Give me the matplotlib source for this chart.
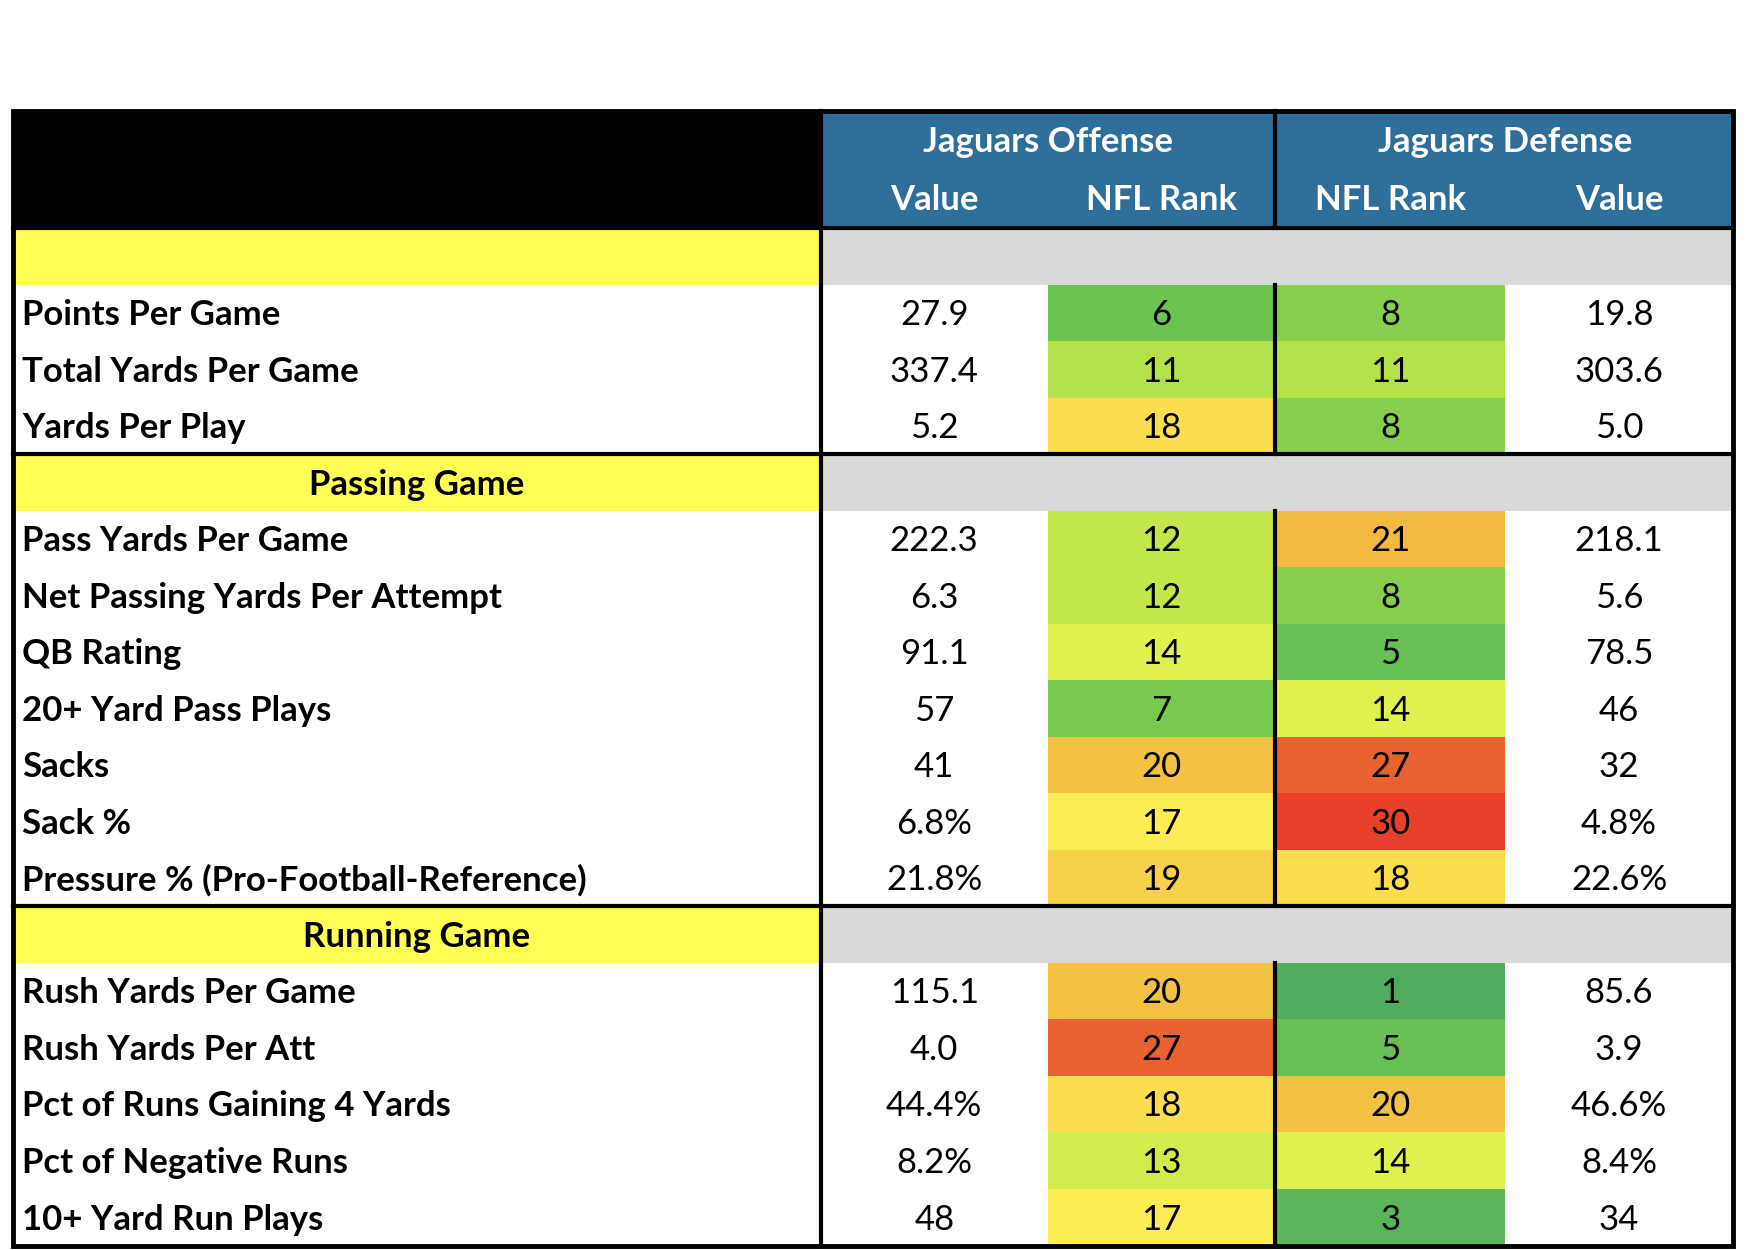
import matplotlib.pyplot as plt
from matplotlib.patches import Rectangle
from matplotlib.colors import LinearSegmentedColormap

plt.rcParams['font.family'] = ['Lato', 'DejaVu Sans']

sections = ['', 'Passing Game', 'Running Game']
labels = [
    ['Points Per Game', 'Total Yards Per Game', 'Yards Per Play'],
    ['Pass Yards Per Game', 'Net Passing Yards Per Attempt', 'QB Rating', '20+ Yard Pass Plays',
     'Sacks', 'Sack %', 'Pressure % (Pro-Football-Reference)'],
    ['Rush Yards Per Game', 'Rush Yards Per Att', 'Pct of Runs Gaining 4 Yards',
     'Pct of Negative Runs', '10+ Yard Run Plays'],
]
off_value = [['27.9', '337.4', '5.2'],
             ['222.3', '6.3', '91.1', '57', '41', '6.8%', '21.8%'],
             ['115.1', '4.0', '44.4%', '8.2%', '48']]
off_rank = [[6, 11, 18], [12, 12, 14, 7, 20, 17, 19], [20, 27, 18, 13, 17]]
def_rank = [[8, 11, 8], [21, 8, 5, 14, 27, 30, 18], [1, 5, 20, 14, 3]]
def_value = [['19.8', '303.6', '5.0'],
             ['218.1', '5.6', '78.5', '46', '32', '4.8%', '22.6%'],
             ['85.6', '3.9', '46.6%', '8.4%', '34']]

cmap = LinearSegmentedColormap.from_list('rank', [
    (0.0, '#50AD60'), (0.17, '#6CC352'), (0.35, '#B5E34A'), (0.45, '#E1F24F'),
    (0.55, '#FDEE55'), (0.66, '#F4C042'), (0.72, '#F2B33F'), (0.9, '#EB6131'), (1.0, '#E8402A')])

def rank_color(r):
    return cmap((r - 1) / 29)

fig = plt.figure(figsize=(17.46, 12.5), dpi=100)
ax = fig.add_axes([0, 0, 1, 1])
ax.set_xlim(0, 1568)
ax.set_ylim(1124, 0)
ax.axis('off')

cols = [12, 737, 941, 1145, 1352, 1556]
top, head_bot, bottom = 100, 205, 1120
n_rows = 1 + sum(len(s) + 1 for s in labels) - 1
rh = (bottom - head_bot) / n_rows
fs = 25

# header
ax.add_patch(Rectangle((cols[0], top), cols[1] - cols[0], head_bot - top, color='black'))
ax.add_patch(Rectangle((cols[1], top), cols[5] - cols[1], head_bot - top, color='#2E6E99'))
hk = dict(color='white', fontweight='bold', fontsize=fs, ha='center', va='center')
ax.text(cols[2], 128, 'Jaguars Offense', **hk)
ax.text(cols[4], 128, 'Jaguars Defense', **hk)
for i, t in enumerate(['Value', 'NFL Rank', 'NFL Rank', 'Value']):
    ax.text((cols[i + 1] + cols[i + 2]) / 2, 180, t, **hk)

lk = dict(color='black', lw=3, solid_capstyle='projecting')
y = head_bot
sep_lines = []
for s, sec in enumerate(sections):
    if s > 0:
        sep_lines.append(y)
    ax.add_patch(Rectangle((cols[0], y), cols[1] - cols[0], rh, color='#FFFF55', lw=0))
    ax.add_patch(Rectangle((cols[1], y), cols[5] - cols[1], rh, color='#D9D9D9', lw=0))
    ax.text((cols[0] + cols[1]) / 2, y + rh / 2 + 2, sec, fontsize=fs, fontweight='bold',
            ha='center', va='center')
    y += rh
    y0 = y
    for i, lab in enumerate(labels[s]):
        cy = y + rh / 2 + 2
        ax.text(cols[0] + 8, cy, lab, fontsize=fs, fontweight='bold', va='center')
        ax.add_patch(Rectangle((cols[2], y), cols[3] - cols[2], rh, color=rank_color(off_rank[s][i]), lw=0))
        ax.add_patch(Rectangle((cols[3], y), cols[4] - cols[3], rh, color=rank_color(def_rank[s][i]), lw=0))
        vals = [off_value[s][i], str(off_rank[s][i]), str(def_rank[s][i]), def_value[s][i]]
        for j, v in enumerate(vals):
            ax.text((cols[j + 1] + cols[j + 2]) / 2, cy, v, fontsize=fs, ha='center', va='center')
        y += rh
    ax.plot([cols[3], cols[3]], [y0, y], **lk)

for yy in [head_bot] + sep_lines:
    ax.plot([cols[0], cols[5]], [yy, yy], **lk)
ax.plot([cols[1], cols[1]], [top, bottom], **lk)
ax.plot([cols[3], cols[3]], [top, head_bot], **lk)
ax.add_patch(Rectangle((cols[0], top), cols[5] - cols[0], bottom - top, fill=False, ec='black', lw=3.5))

fig.savefig('out.png', dpi=100)
